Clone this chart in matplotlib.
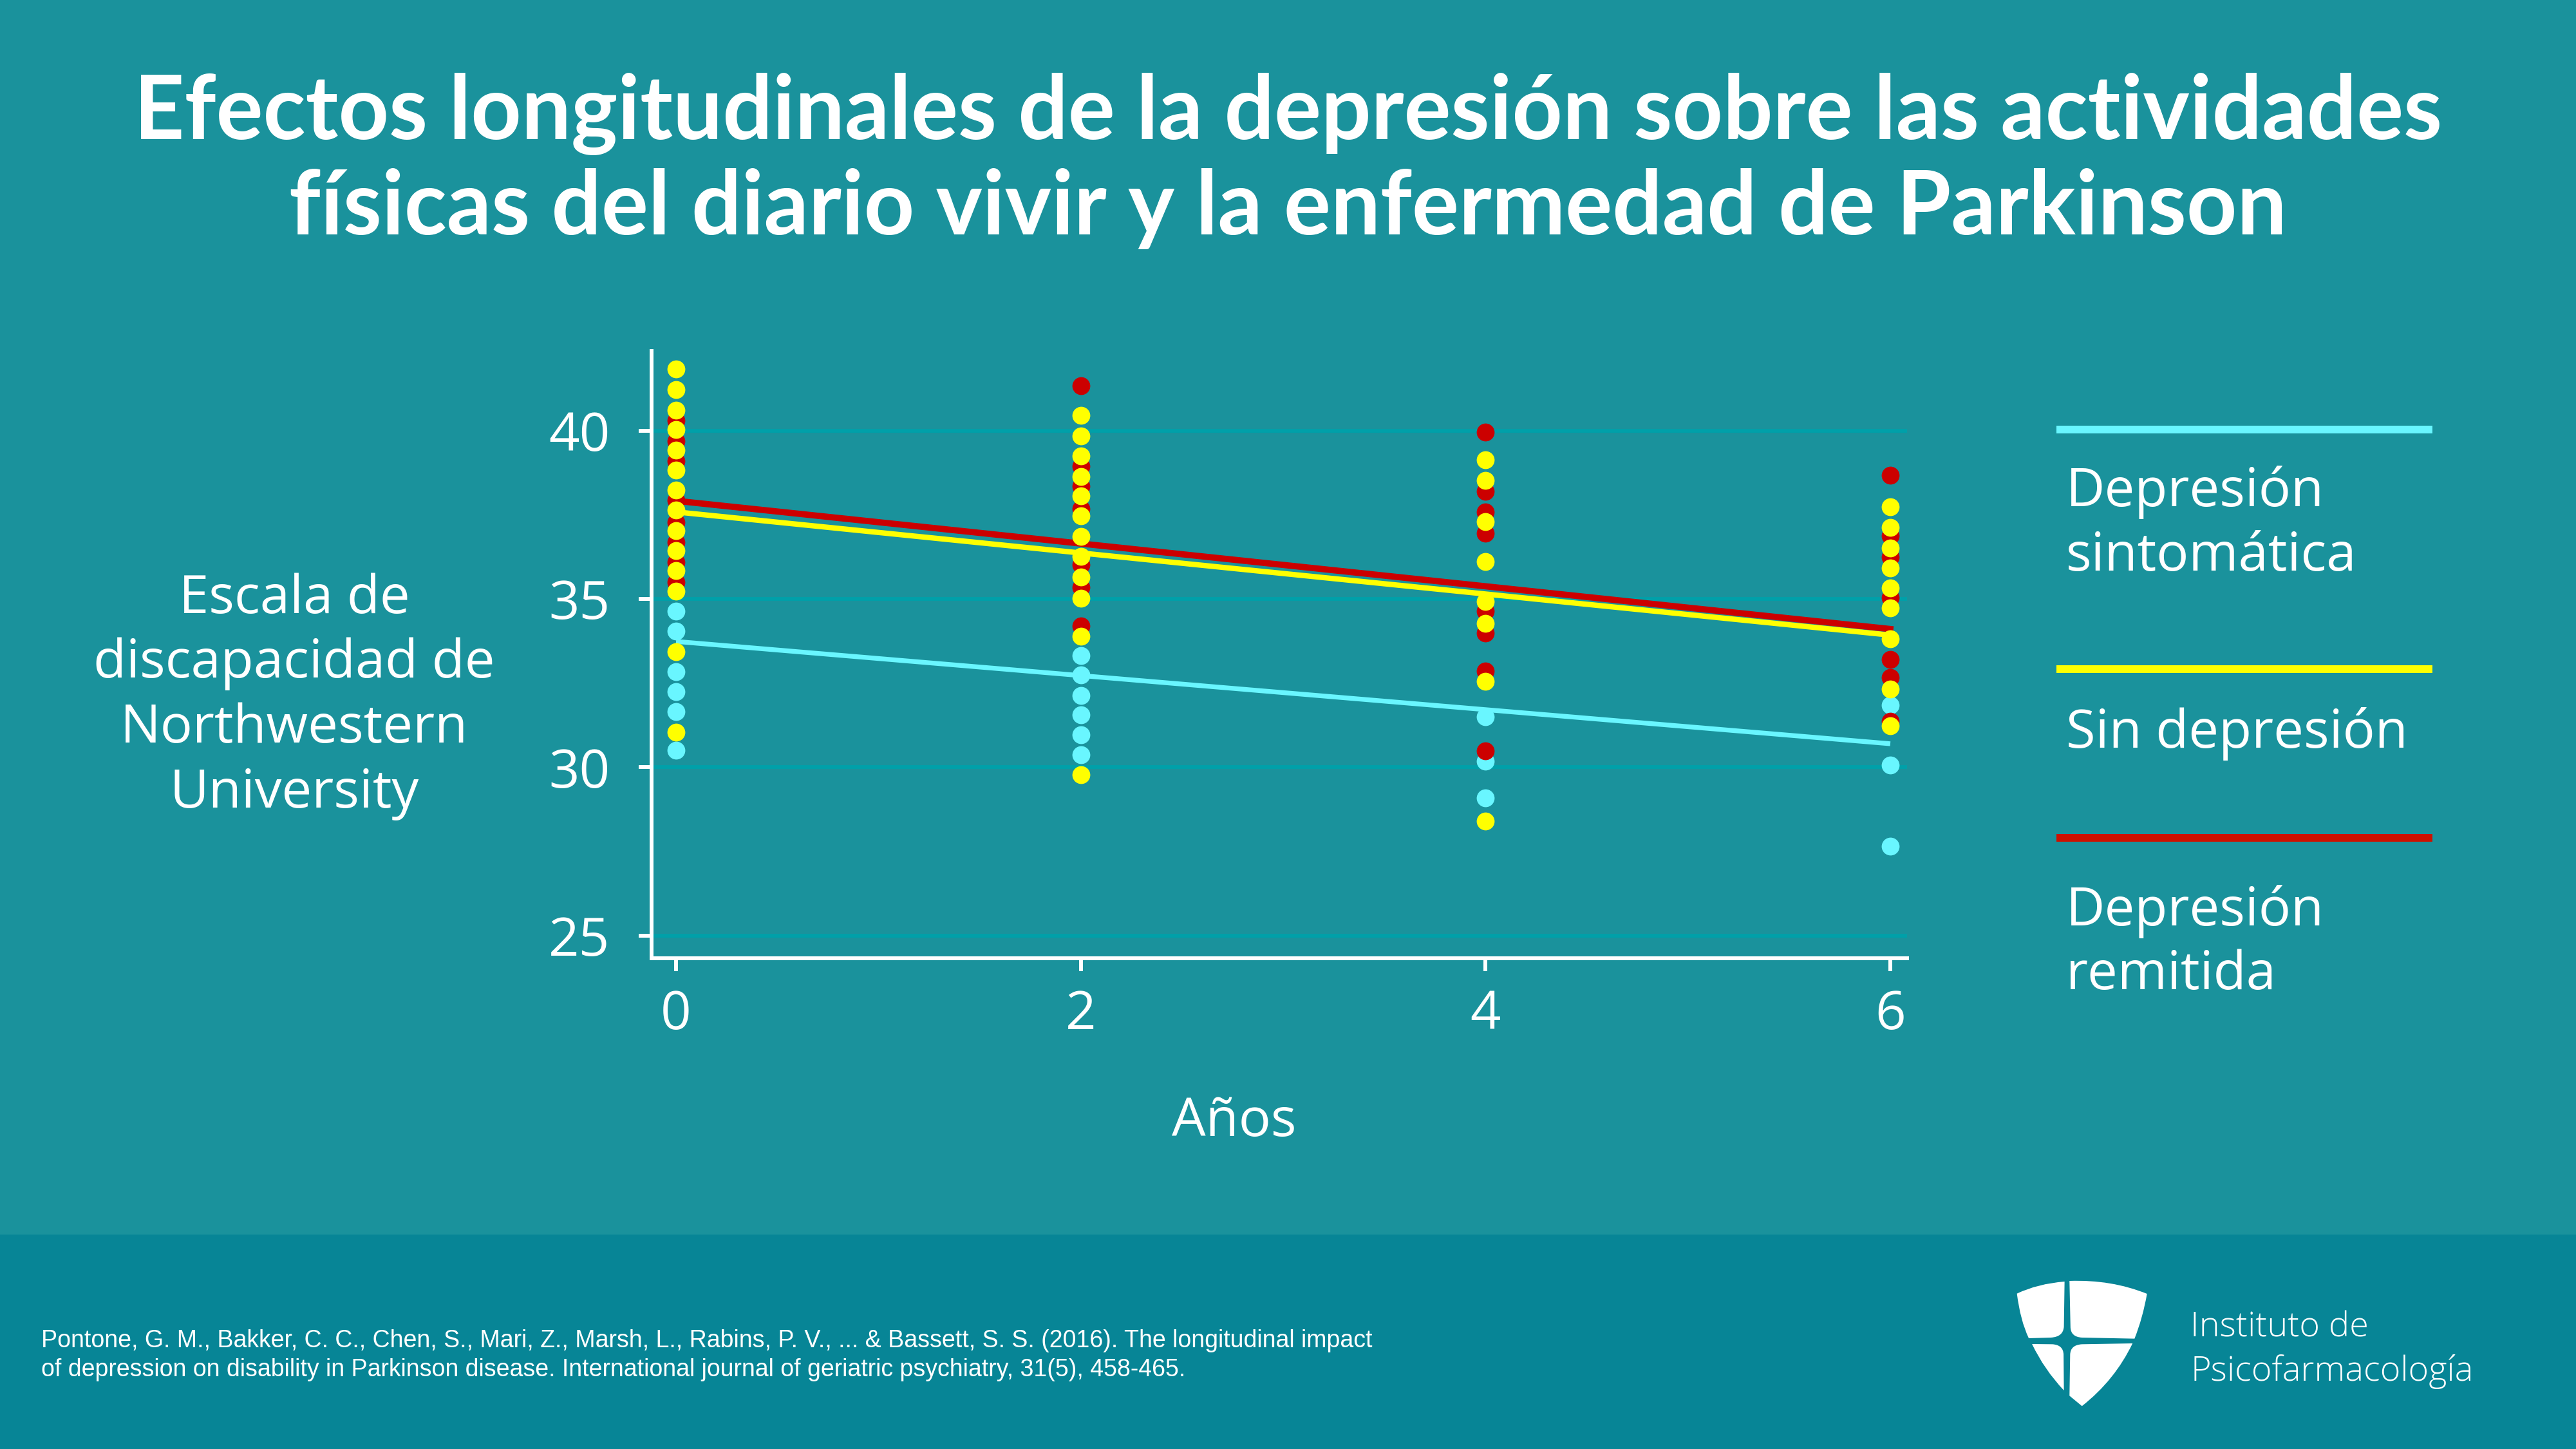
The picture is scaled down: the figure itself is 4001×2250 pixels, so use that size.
import matplotlib
matplotlib.use("Agg")
import matplotlib.pyplot as plt
from matplotlib.patches import Rectangle, PathPatch
from matplotlib.path import Path

W, H = 4001, 2250
BG = "#1A929C"
FOOTER = "#078596"
GRID = "#00A0A9"
CYAN = "#69F6FF"
RED = "#CC0000"
YELLOW = "#FFFF00"

title_lines = [
    "Efectos longitudinales de la depresión sobre las actividades",
    "físicas del diario vivir y la enfermedad de Parkinson",
]
ylabel_lines = ["Escala de", "discapacidad de", "Northwestern", "University"]
citation_lines = [
    "Pontone, G. M., Bakker, C. C., Chen, S., Mari, Z., Marsh, L., Rabins, P. V., ... & Bassett, S. S. (2016). The longitudinal impact",
    "of depression on disability in Parkinson disease. International journal of geriatric psychiatry, 31(5), 458-465.",
]

x_ticks = [0, 2, 4, 6]
y_ticks = [25, 30, 35, 40]

# Points per year
yellow_0 = [41.83, 41.23, 40.62, 40.03, 39.43, 38.83, 38.23, 37.64, 37.04, 36.44, 35.84, 35.24, 33.44, 31.04]
yellow_2 = [40.46, 39.85, 39.26, 38.65, 38.06, 37.47, 36.86, 36.26, 35.65, 35.03, 33.89, 29.77]
yellow_4 = [39.13, 38.53, 37.30, 36.12, 34.93, 34.27, 32.56, 28.40]
yellow_6 = [37.74, 37.12, 36.52, 35.92, 35.33, 34.73, 33.82, 32.33, 31.24]

red_0 = [40.30, 39.69, 39.10, 37.94, 37.29, 36.69, 36.10, 35.50]
red_2 = [41.34, 38.94, 38.36, 37.69, 36.01, 35.35, 34.20]
red_4 = [39.97, 38.20, 37.58, 36.96, 34.65, 33.99, 32.86, 30.48]
red_6 = [38.67, 36.88, 36.24, 35.04, 33.20, 32.66, 31.36]

cyan_0 = [34.64, 34.04, 32.85, 32.24, 31.65, 30.50]
cyan_2 = [33.32, 32.74, 32.13, 31.56, 30.96, 30.37]
cyan_4 = [31.50, 30.18, 29.09]
cyan_6 = [31.85, 30.06, 27.66]

# Trend lines, first and last year
line_years = [0, 6]
line_cyan = [33.74, 30.70]
line_yellow = [37.59, 33.93]
line_red = [37.92, 34.11]

fig = plt.figure(figsize=(W / 100, H / 100), dpi=100, facecolor=BG)

# Background layer in pixel coordinates
bg = fig.add_axes([0, 0, 1, 1])
bg.set_xlim(0, W)
bg.set_ylim(H, 0)
bg.axis("off")
bg.add_patch(Rectangle((0, 1917), W, H - 1917, color=FOOTER, lw=0))


def put(x, y, s, size, family="Open Sans", ha="left", **kw):
    bg.text(x, y, s, fontsize=size, family=family, color="white", ha=ha, va="baseline", **kw)


# Title
put(W / 2, 216, title_lines[0], 98.5, family="Lato", ha="center", weight="bold")
put(W / 2, 364, title_lines[1], 98.5, family="Lato", ha="center", weight="bold")

# Y axis caption
for i, line in enumerate(ylabel_lines):
    put(457, 952 + i * 100.5, line, 60, ha="center")
put(1917, 1764, "Años", 60, ha="center")

# Legend
put_legend = [
    (667, CYAN, [("Depresión", 786), ("sintomática", 886)]),
    (1039, YELLOW, [("Sin depresión", 1161)]),
    (1301, "#CC1100", [("Depresión", 1437), ("remitida", 1536)]),
]
for ly, col, labels in put_legend:
    bg.add_patch(Rectangle((3194, ly - 6), 584, 12, color=col, lw=0))
    for label, by in labels:
        put(3209, by, label, 60)

# Citation
put(64, 2092, citation_lines[0], 27, family="Liberation Sans")
put(64, 2137, citation_lines[1], 27, family="Liberation Sans")

# Logo
put(3402, 2076, "Instituto de", 39, weight=300)
put(3402, 2144, "Psicofarmacología", 39, weight=300)


def logo_path(points):
    # Each point is (code, x, y) in the 3x crop; quadratic segments use two CURVE3 steps
    verts = [(3050 + zx / 1.96, 1950 + zy / 3) for _, zx, zy in points]
    return Path(verts, [code for code, _, _ in points])


M, L, C = Path.MOVETO, Path.LINETO, Path.CURVE3
logo_parts = [
    [(M, 307, 120), (C, 225, 130), (C, 162, 176), (C, 172, 300), (C, 198, 384), (L, 265, 381),
     (C, 303, 378), (C, 305, 330), (L, 307, 120)],
    [(M, 322, 117), (C, 450, 110), (C, 558, 177), (C, 545, 290), (C, 520, 386), (L, 360, 381),
     (C, 325, 378), (C, 325, 330), (L, 322, 117)],
    [(M, 208, 411), (L, 270, 412), (C, 303, 415), (C, 304, 460), (L, 305, 627), (C, 245, 530), (C, 208, 411)],
    [(M, 514, 408), (L, 360, 412), (C, 325, 415), (C, 324, 460), (L, 322, 652), (L, 360, 700),
     (C, 460, 580), (C, 514, 408)],
]
for part in logo_parts:
    bg.add_patch(PathPatch(logo_path(part), facecolor="white", lw=0))

# Chart
left, right, bottom, top = 1012, 2962, 1488, 545
ax = fig.add_axes([left / W, 1 - bottom / H, (right - left) / W, (bottom - top) / H])
ax.patch.set_alpha(0)
ax.set_xlim((left - 1050) / 314.33, (right - 1050) / 314.33)
ax.set_ylim(25 - (bottom - 1452.7) / 52.25, 40 + (669 - top) / 52.25)

ax.plot(line_years, line_cyan, color=CYAN, lw=5.3, solid_capstyle="butt", zorder=2)
ax.plot(line_years, line_yellow, color=YELLOW, lw=6, solid_capstyle="butt", zorder=2.1)
ax.plot(line_years, line_red, color=RED, lw=7, solid_capstyle="projecting", zorder=2.2)

groups = [
    (CYAN, [cyan_0, cyan_2, cyan_4, cyan_6], 3),
    (RED, [red_0, red_2, red_4, red_6], 3.1),
    (YELLOW, [yellow_0, yellow_2, yellow_4, yellow_6], 3.2),
]
for col, by_year, z in groups:
    for year, vals in zip(x_ticks, by_year):
        ax.scatter([year] * len(vals), vals, s=400, color=col, linewidths=0, zorder=z, clip_on=False)

ax.set_xticks(x_ticks)
ax.set_yticks(y_ticks)
ax.grid(axis="y", color=GRID, lw=4.3)
ax.set_axisbelow(True)
for side in ["top", "right"]:
    ax.spines[side].set_visible(False)
for side in ["left", "bottom"]:
    ax.spines[side].set_color("white")
    ax.spines[side].set_linewidth(4.3)
ax.tick_params(axis="both", color="white", labelcolor="white", width=4.3, length=14.4, labelsize=60)
ax.tick_params(axis="y", pad=32)
ax.tick_params(axis="x", pad=20)
for lab in ax.get_xticklabels() + ax.get_yticklabels():
    lab.set_fontfamily("Open Sans")

fig.savefig("out.png", dpi=100, facecolor=BG)
